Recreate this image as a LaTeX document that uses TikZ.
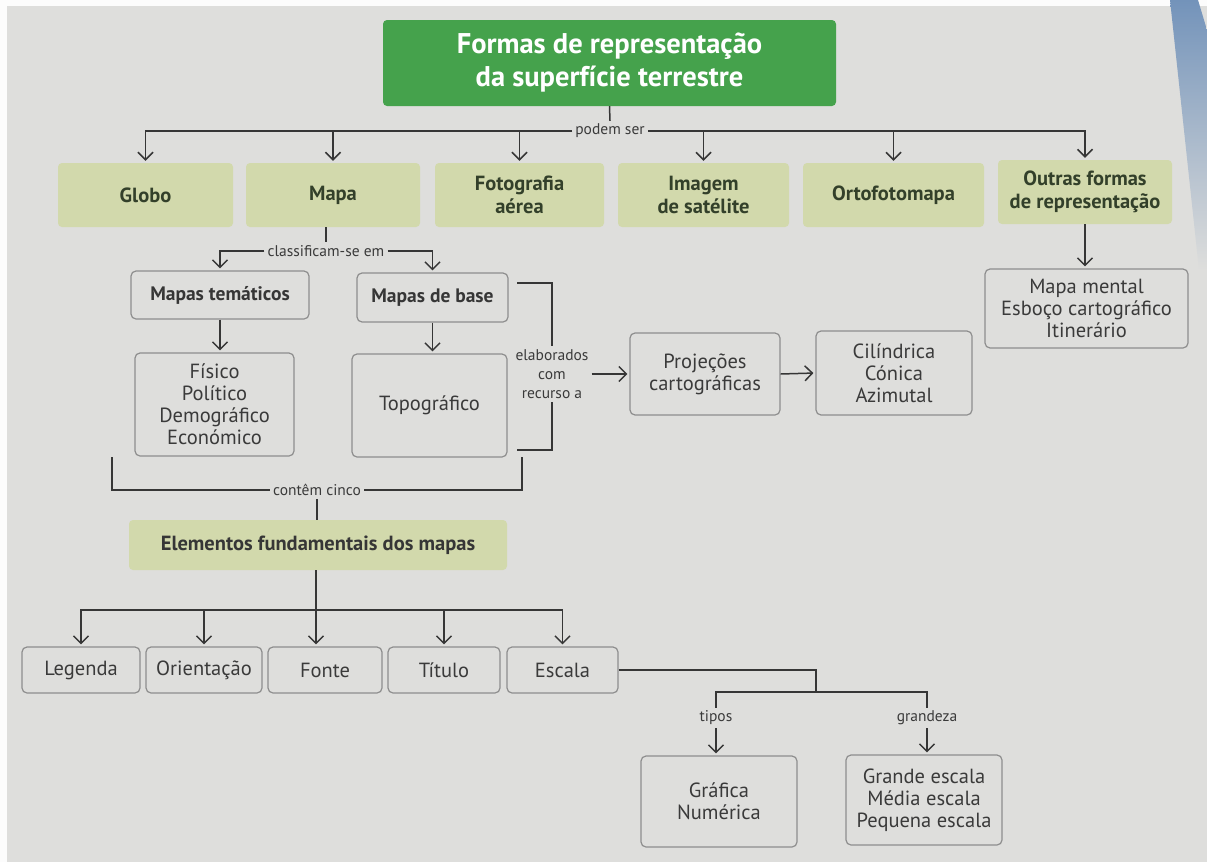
\documentclass[tikz,border=0pt]{standalone}
\usepackage{fontspec}
\setmainfont{PT Sans}
\usetikzlibrary{arrows.meta}
\definecolor{page}{HTML}{DEDEDC}
\definecolor{ink}{HTML}{363636}
\definecolor{frame}{HTML}{8E8E8E}
\definecolor{leaf}{HTML}{D2D9AC}
\definecolor{leaftext}{HTML}{33402A}
\definecolor{headgreen}{HTML}{45A24C}
\definecolor{spine}{HTML}{7393BA}
\definecolor{bodytext}{HTML}{3A3A3A}
\begin{document}
\begin{tikzpicture}[x=1pt,y=-1pt,
  conn/.style={draw=ink, line width=1.5pt},
  arr/.style={conn, -{Straight Barb[length=7.5pt,width=15pt]}, shorten >=2pt},
  headbox/.style={fill=headgreen, rounded corners=4pt, text=white, align=center,
    font=\bfseries\fontsize{28.5}{33}\selectfont, inner sep=0pt},
  leafbox/.style={fill=leaf, rounded corners=4pt, text=leaftext, align=center,
    minimum height=64pt, font=\bfseries\fontsize{20.5}{23.5}\selectfont, inner sep=0pt},
  plainbox/.style={draw=frame, line width=1.2pt, rounded corners=5pt, fill=page,
    text=bodytext, align=center, font=\fontsize{20.5}{22}\selectfont, inner sep=0pt},
  boldbox/.style={plainbox, text=ink, font=\bfseries\fontsize{19.5}{22}\selectfont},
  lbl/.style={text=bodytext, align=center, font=\fontsize{15.5}{19}\selectfont, inner sep=3pt}
]
% page
\useasboundingbox (0,0) rectangle (1207,862);
\fill[page] (0,0) rectangle (1207,862);
\fill[white!92!page] (0,0) rectangle (1207,6);
\fill[white!92!page] (0,0) rectangle (7,862);
\shade[top color=spine, bottom color=page] (1170,0) -- (1198,0) -- (1207,30) -- (1207,270) -- (1199,270) -- cycle;

% title
\node[headbox, minimum width=453pt, minimum height=86pt] (title) at (609.5,63)
  {Formas de representação\\da superfície terrestre};

% forms of representation
\node[leafbox, minimum width=175pt] (globo)  at (145.5,195) {Globo};
\node[leafbox, minimum width=174pt] (mapa)   at (333,195)   {Mapa};
\node[leafbox, minimum width=169pt] (foto)   at (519.5,195) {Fotografia\\aérea};
\node[leafbox, minimum width=171pt] (imagem) at (703.5,195) {Imagem\\de satélite};
\node[leafbox, minimum width=181pt] (orto)   at (893.5,195) {Ortofotomapa};
\node[leafbox, minimum width=174pt] (outras) at (1085,192)  {Outras formas\\de representação};

\node[lbl] (podem) at (610,131) {podem ser};
\draw[conn] (title.south) -- (podem.north);
\draw[arr] (podem.west) -| (globo.north);
\draw[arr] (podem.east) -| (outras.north);
\draw[arr] (mapa.north |- podem) -- (mapa.north);
\draw[arr] (foto.north |- podem) -- (foto.north);
\draw[arr] (imagem.north |- podem) -- (imagem.north);
\draw[arr] (orto.north |- podem) -- (orto.north);

% map types
\node[boldbox, minimum width=178pt, minimum height=48pt] (mt) at (220,295) {Mapas temáticos};
\node[boldbox, minimum width=151pt, minimum height=49pt] (mb) at (432.5,297.5) {Mapas de base};
\node[lbl] (classif) at (326,251) {classificam-se em};
\draw[conn] (mapa.south -| classif) -- (classif.north);
\draw[arr] (classif.west) -| (mt.north);
\draw[arr] (classif.east) -| (mb.north);

\node[plainbox, minimum width=159pt, minimum height=103pt] (fis) at (214.5,404.5)
  {Físico\\Político\\Demográfico\\Económico};
\node[plainbox, minimum width=155pt, minimum height=103pt] (topo) at (429.5,405.5) {Topográfico};
\draw[arr] (mt.south) -- (mt.south |- fis.north);
\draw[arr] (mb.south) -- (mb.south |- topo.north);

% projections
\node[lbl] (elab) at (552,374) {elaborados\\com\\recurso a};
\coordinate (elabTop) at (517,283);
\coordinate (elabBot) at (517,450);
\draw[conn] (elabTop) -| (elab.north);
\draw[conn] (elabBot) -| (elab.south);
\node[plainbox, minimum width=150pt, minimum height=82pt] (proj) at (705,374) {Projeções\\cartográficas};
\node[plainbox, minimum width=156pt, minimum height=84pt] (cil) at (894,373) {Cilíndrica\\Cónica\\Azimutal};
\draw[arr] (elab.east) -- (proj.west);
\draw[arr] (proj.east) -- (cil.west);

% other forms
\node[plainbox, minimum width=203pt, minimum height=79pt] (mm) at (1086.5,308.5)
  {Mapa mental\\Esboço cartográfico\\Itinerário};
\draw[arr] (outras.south) -- (outras.south |- mm.north);

% fundamental elements
\node[lbl] (contem) at (317,490) {contêm cinco};
\coordinate (ccL) at (112,457);
\coordinate (ccR) at (522,457);
\draw[conn] (ccL) |- (contem.west);
\draw[conn] (ccR) |- (contem.east);
\node[leafbox, text=ink, minimum width=378pt, minimum height=50pt] (elem) at (318,545)
  {Elementos fundamentais dos mapas};
\draw[conn] (contem.south) -- (contem.south |- elem.north);

\node[plainbox, minimum width=118pt, minimum height=46pt] (legenda) at (81,670)    {Legenda};
\node[plainbox, minimum width=116pt, minimum height=46pt] (orient)  at (204,670)   {Orientação};
\node[plainbox, minimum width=114pt, minimum height=46pt] (fonte)   at (325,670)   {Fonte};
\node[plainbox, minimum width=112pt, minimum height=46pt] (titulo)  at (444,670)   {Título};
\node[plainbox, minimum width=111pt, minimum height=46pt] (escala)  at (562.5,670) {Escala};

\coordinate (ebus) at (316,610);
\draw[arr] (elem.south -| ebus) -- (fonte.north -| ebus);
\draw[arr] (ebus) -| (legenda.north);
\draw[arr] (ebus) -| (escala.north);
\draw[arr] (orient.north |- ebus) -- (orient.north);
\draw[arr] (titulo.north |- ebus) -- (titulo.north);

% scale
\node[plainbox, minimum width=156pt, minimum height=91pt] (graf) at (719,801.5) {Gráfica\\Numérica};
\node[plainbox, minimum width=156pt, minimum height=90pt] (grande) at (924,800)
  {Grande escala\\Média escala\\Pequena escala};
\node[lbl] (tipos) at (716,718) {tipos};
\node[lbl] (grandeza) at (927,718) {grandeza};
\coordinate (escJ) at (816,692);
\draw[conn] (escala.east) -| (escJ);
\draw[conn] (escJ) -| (tipos.north);
\draw[conn] (escJ) -| (grandeza.north);
\draw[arr] (tipos.south) -- (tipos.south |- graf.north);
\draw[arr] (grandeza.south) -- (grandeza.south |- grande.north);
\end{tikzpicture}
\end{document}
